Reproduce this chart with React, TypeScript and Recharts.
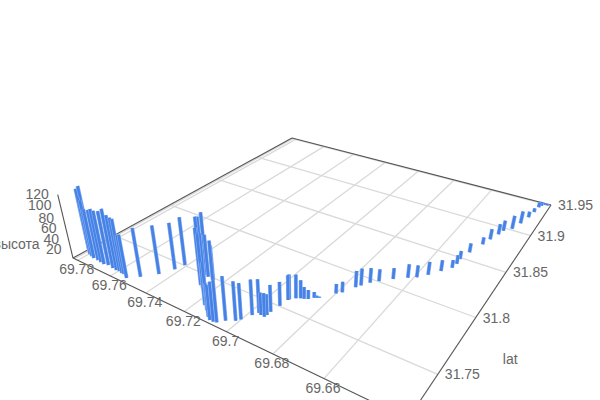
import React from 'react';
import { ComposedChart, Line, XAxis, YAxis, ReferenceDot } from 'recharts';

// bar values, in track order
const lon = [
  69.7825, 69.7802, 69.7796, 69.7777, 69.7758, 69.7732, 69.771, 69.7688, 69.7667, 69.7635, 69.7612, 69.7597, 69.7578,
  69.7566, 69.7536, 69.7497, 69.745, 69.7421, 69.7409, 69.7288, 69.7317, 69.7324, 69.7262, 69.7241, 69.7234, 69.7275,
  69.7246, 69.7244, 69.7164, 69.7138, 69.7108, 69.7091, 69.7075, 69.7062, 69.7042, 69.7012, 69.7001, 69.6983, 69.697,
  69.6957, 69.6941, 69.6939, 69.6939, 69.6932, 69.6927, 69.6926, 69.6909, 69.6894, 69.6882, 69.6868, 69.6854, 69.6846,
  69.6838, 69.68, 69.6784, 69.6758, 69.6747, 69.6726, 69.6702, 69.6663, 69.6619, 69.6591, 69.6561, 69.6529, 69.6501,
  69.6496, 69.6498, 69.6484, 69.646, 69.6447, 69.6431, 69.6423, 69.6396, 69.6379, 69.6365, 69.6358, 69.6353, 69.6347,
  69.6335, 69.6325,
];
const lat = [
  31.7293, 31.7289, 31.7267, 31.7259, 31.7251, 31.7251, 31.7246, 31.7242, 31.725, 31.7244, 31.7241, 31.7244, 31.7238,
  31.7238, 31.7219, 31.7273, 31.7352, 31.7439, 31.7505, 31.75, 31.7512, 31.7505, 31.7407, 31.739, 31.7397, 31.7492,
  31.7482, 31.7484, 31.7283, 31.7257, 31.7219, 31.7203, 31.7203, 31.7209, 31.7245, 31.7274, 31.7298, 31.7359, 31.7393,
  31.7385, 31.7384, 31.7403, 31.7436, 31.7505, 31.7571, 31.758, 31.7608, 31.7622, 31.7629, 31.764, 31.7668, 31.7676,
  31.7684, 31.7769, 31.7797, 31.788, 31.7913, 31.7964, 31.8005, 31.807, 31.8129, 31.8162, 31.8222, 31.83, 31.8369,
  31.8424, 31.8484, 31.8588, 31.8724, 31.8808, 31.8899, 31.8962, 31.9019, 31.9121, 31.9233, 31.9329, 31.9416, 31.9451,
  31.9475, 31.9479,
];
const height = [
  118, 126, 108, 107, 94, 96, 101, 101, 102, 111, 103, 100, 101, 74, 81, 91, 91, 88, 91, 116, 103, 103, 105, 101, 101,
  79, 74, 65, 78, 86, 60, 63, 71, 75, 79, 70, 65, 64, 61, 41, 43, 38, 49, 44, 46, 46, 44, 34, 22, 17, 11, 4, 2, 18, 20,
  31, 32, 28, 23, 21, 26, 23, 25, 21, 15, 17, 16, 18, 14, 21, 21, 21, 27, 25, 12, 8, 10, 8, 4, 3,
];

const lonTicks = [69.78, 69.76, 69.74, 69.72, 69.7, 69.68, 69.66];
const latTicks = [31.95, 31.9, 31.85, 31.8, 31.75];
const heightTicks = [20, 40, 60, 80, 100, 120];

const LON_MAX = 69.783;
const LON_SPAN = 0.152;
const LAT_MAX = 31.95;
const LAT_SPAN = 0.232;

// the 3d box seen in perspective, fitted to the corners of the floor
const project = (lo: number, la: number, h = 0) => {
  const u = (LON_MAX - lo) / LON_SPAN;
  const v = (LAT_MAX - la) / LAT_SPAN;
  const r = -0.00036 * h;
  const w = 1 - 0.2033 * u - 0.3136 * v + r;
  return {
    px: (147 * u - 241.9 * v + 292 + 300 * r) / w,
    py: (25.3 * u + 39.1 * v + 138 + 1200 * r) / w,
  };
};

const LON_MIN = LON_MAX - LON_SPAN;
const LAT_MIN = LAT_MAX - LAT_SPAN;

const bars = lon
  .map((lo, i) => [project(lo, lat[i], height[i]), project(lo, lat[i])])
  .sort((a, b) => a[1].py - b[1].py);

const gridLines = [
  ...lonTicks.map((t) => [project(t, LAT_MIN), project(t, LAT_MAX)]),
  ...latTicks.slice(1).map((t) => [project(LON_MAX, t), project(LON_MIN, t)]),
  [project(LON_MAX, LAT_MAX - 0.001), project(LON_MIN, LAT_MAX - 0.001)],
  [project(LON_MAX - 0.001, LAT_MAX), project(LON_MAX - 0.001, LAT_MIN)],
];

const axisLines = [
  [project(LON_MAX, LAT_MIN), project(LON_MIN, LAT_MIN)],
  [project(LON_MIN, LAT_MAX), project(LON_MIN, LAT_MIN)],
  [project(LON_MAX, LAT_MAX), project(LON_MIN, LAT_MAX)],
  [project(LON_MAX, LAT_MAX), project(LON_MAX, LAT_MIN)],
  [project(LON_MAX, LAT_MIN), project(LON_MAX, LAT_MIN, 120)],
];

const TEXT = '#666666';
const FONT = '"Liberation Sans", Arial, sans-serif';

const tickLabel = (value: string, dx: number, dy: number, anchor: 'start' | 'middle' | 'end') => (props: any) => {
  const { x, y, width, height: h } = props.viewBox;
  return (
    <text
      x={x + width / 2 + dx}
      y={y + h / 2 + dy}
      textAnchor={anchor}
      dominantBaseline="central"
      fontSize={14}
      fontFamily={FONT}
      fill={TEXT}
    >
      {value}
    </text>
  );
};

const label = (p: { px: number; py: number }, value: string, dx: number, dy: number, anchor: 'start' | 'middle' | 'end') => (
  <ReferenceDot
    key={value}
    x={p.px}
    y={p.py}
    r={0}
    fill="none"
    stroke="none"
    ifOverflow="visible"
    label={tickLabel(value, dx, dy, anchor)}
  />
);

const lineProps = { dataKey: 'py', dot: false, activeDot: false, legendType: 'none', isAnimationActive: false } as const;

export default function App() {
  return (
    <div style={{ position: 'absolute', left: 0, top: 0, width: 600, height: 400, overflow: 'hidden' }}>
      <ComposedChart width={600} height={400} margin={{ top: 0, right: 0, bottom: 0, left: 0 }}>
        <XAxis hide type="number" dataKey="px" domain={[0, 600]} allowDataOverflow />
        <YAxis hide type="number" reversed domain={[0, 400]} allowDataOverflow />
        {gridLines.map((d, i) => (
          <Line key={'g' + i} {...lineProps} data={d} stroke="#d9d9d9" strokeWidth={1.3} />
        ))}
        {axisLines.map((d, i) => (
          <Line key={'a' + i} {...lineProps} data={d} stroke="#555555" strokeWidth={1.1} />
        ))}
        {bars.flatMap((d, i) => [
          <Line key={'e' + i} {...lineProps} data={d} stroke="#8ab1f1" strokeWidth={3.9} />,
          <Line key={'b' + i} {...lineProps} data={d} stroke="#4682e6" strokeWidth={2.7} />,
        ])}
        {lonTicks.map((t) => label(project(t, LAT_MIN), String(t), -1, 9, 'middle'))}
        {latTicks.map((t) => label(project(LON_MIN, t), String(t), 7, 0, 'start'))}
        {heightTicks.map((t) => label(project(LON_MAX, LAT_MIN, t), String(t), -9, t > 90 ? -1 : 1, 'end'))}
        {label(project(LON_MAX, LAT_MIN, 60), 'высота', -26, 17, 'end')}
        {label(project(LON_MIN, 31.762), 'lat', 55, 0, 'start')}
      </ComposedChart>
    </div>
  );
}
